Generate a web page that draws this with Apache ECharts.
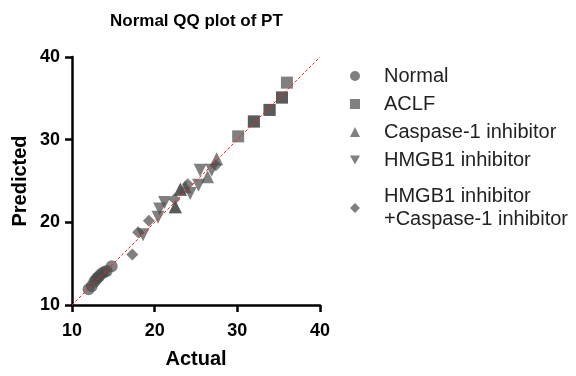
<!DOCTYPE html>
<html>
<head>
<meta charset="utf-8">
<script src="https://cdn.jsdelivr.net/npm/echarts@6/dist/echarts.min.js"></script>
<style>
    html, body { margin: 0; padding: 0; background: #fff; }
    #main { width: 576px; height: 376px; }
</style>
</head>
<body>
<div id="main"></div>
<script>
// [actual, predicted]
const normalPts = [[12.0, 11.9], [12.4, 12.3], [12.7, 12.8], [12.9, 13.1], [13.1, 13.3],
    [13.3, 13.5], [13.6, 13.8], [13.9, 14.0], [14.2, 14.1], [14.8, 14.7]];
const aclfPts = [[30.1, 30.4], [32.0, 32.2], [32.0, 32.2], [33.9, 33.6], [33.9, 33.6],
    [35.4, 35.1], [35.4, 35.1], [36.0, 36.9]];
const caspPts = [[22.5, 21.9], [22.5, 21.9], [23.1, 24.0], [23.1, 24.0], [23.7, 24.3],
    [26.4, 25.5], [27.5, 27.7]];
const hmgbPts = [[18.6, 18.5], [20.4, 20.6], [20.6, 21.6], [21.2, 22.4], [24.3, 23.5],
    [25.3, 24.5], [25.5, 26.3], [26.9, 26.3]];
const comboPts = [[17.3, 16.1], [18.0, 18.8], [19.3, 20.2], [22.4, 22.8], [24.0, 24.6], [27.4, 26.9]];
const refLine = [[10, 10], [40, 40]];
const groupNames = ['Normal', 'ACLF', 'Caspase-1 inhibitor', 'HMGB1 inhibitor', 'HMGB1 inhibitor\n+Caspase-1 inhibitor'];

const font = 'Arial, "Liberation Sans", sans-serif';
const pointStyle = { color: '#4a4a4a', opacity: 0.7 };

function scatter(name, data, symbol, size) {
    return {
        name: name,
        type: 'scatter',
        data: data,
        symbol: symbol,
        symbolSize: size,
        itemStyle: pointStyle
    };
}

const legendBase = {
    orient: 'vertical',
    left: 345,
    itemWidth: 10,
    itemHeight: 10,
    itemGap: 0
};

const chart = echarts.init(document.getElementById('main'));
chart.setOption({
    animation: false,
    title: {
        text: 'Normal QQ plot of PT',
        left: 105,
        top: 8,
        textStyle: { fontFamily: font, fontSize: 17, fontWeight: 'bold', color: '#000' }
    },
    grid: { left: 72, top: 57, width: 248, height: 248 },
    legend: [
        Object.assign({}, legendBase, {
            data: groupNames.slice(0, 4),
            top: 57,
            textStyle: { fontFamily: font, fontSize: 20, color: '#222', lineHeight: 28, padding: [0, 0, 0, 19] }
        }),
        Object.assign({}, legendBase, {
            data: groupNames.slice(4),
            top: 180,
            textStyle: { fontFamily: font, fontSize: 20, color: '#222', lineHeight: 23, padding: [0, 0, 0, 19] }
        })
    ],
    xAxis: {
        type: 'value', min: 10, max: 40, interval: 10,
        name: 'Actual', nameLocation: 'middle', nameGap: 44,
        nameTextStyle: { fontFamily: font, fontSize: 20, fontWeight: 'bold', color: '#000' },
        axisLine: { onZero: false, lineStyle: { color: '#000', width: 2.5 } },
        axisTick: { length: 7, lineStyle: { width: 2.5 } },
        axisLabel: { fontFamily: font, fontSize: 18, fontWeight: 'bold', color: '#000', margin: 17 },
        splitLine: { show: false }
    },
    yAxis: {
        type: 'value', min: 10, max: 40, interval: 10,
        name: 'Predicted', nameLocation: 'middle', nameGap: 42,
        nameTextStyle: { fontFamily: font, fontSize: 20, fontWeight: 'bold', color: '#000' },
        axisLine: { onZero: false, lineStyle: { color: '#000', width: 2.5 } },
        axisTick: { length: 7, lineStyle: { width: 2.5 } },
        axisLabel: { fontFamily: font, fontSize: 18, fontWeight: 'bold', color: '#000', margin: 12 },
        splitLine: { show: false }
    },
    series: [
        {
            name: 'ref',
            type: 'line',
            data: refLine,
            symbol: 'none',
            silent: true,
            z: 5,
            lineStyle: { color: '#ff2020', width: 1, type: [3, 2] }
        },
        scatter(groupNames[0], normalPts, 'circle', 12),
        scatter(groupNames[1], aclfPts, 'rect', 12),
        scatter(groupNames[2], caspPts, 'triangle', 13),
        scatter(groupNames[3], hmgbPts, 'path://M0,0 L10,0 L5,9 Z', 13),
        scatter(groupNames[4], comboPts, 'diamond', 12)
    ]
});
</script>
</body>
</html>
